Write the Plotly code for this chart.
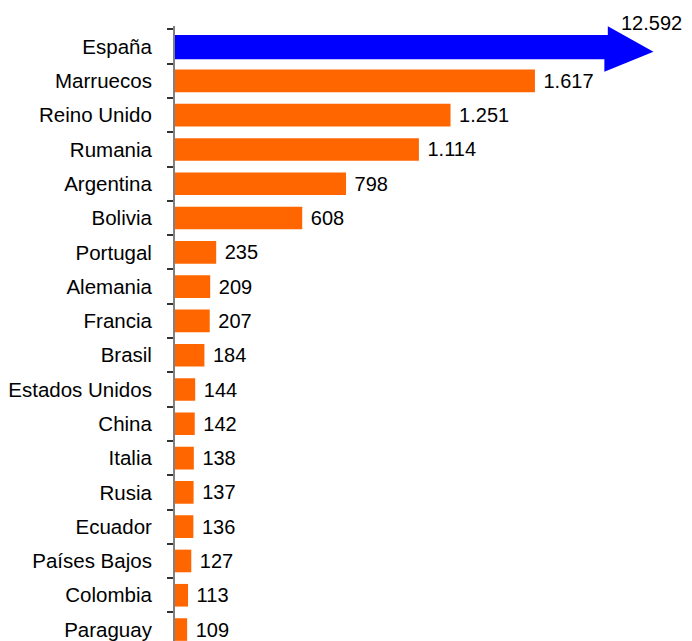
import plotly.graph_objects as go

# Countries, top to bottom
countries = ["España", "Marruecos", "Reino Unido", "Rumania", "Argentina", "Bolivia",
             "Portugal", "Alemania", "Francia", "Brasil", "Estados Unidos", "China",
             "Italia", "Rusia", "Ecuador", "Países Bajos", "Colombia", "Paraguay"]
values = [12592, 1617, 1251, 1114, 798, 608, 235, 209, 207, 184, 144, 142,
          138, 137, 136, 127, 113, 109]

# España is drawn as a truncated arrow (broken scale)
ARROW_BODY_END = 1933
ARROW_TIP = 2131

FONT = "Liberation Sans, Arial, sans-serif"
pos = list(range(len(countries)))

fig = go.Figure()

fig.add_trace(go.Bar(
    x=values[1:], y=pos[1:],
    orientation="h",
    width=0.66,
    marker=dict(color="#FF6600", line=dict(width=0)),
    texttemplate="\u00a0%{x:,.0f}",
    textposition="outside",
    textfont=dict(family=FONT, size=20, color="#000000"),
    cliponaxis=False,
    hoverinfo="skip",
))

# blue arrow for España
fig.add_shape(
    type="path",
    path=(f"M 0,-0.334 L {ARROW_BODY_END},-0.334 L {ARROW_BODY_END},-0.596 "
          f"L {ARROW_TIP},0.153 L {ARROW_BODY_END - 15},0.736 L {ARROW_BODY_END - 15},0.366 "
          f"L 0,0.366 Z"),
    xref="x", yref="y",
    fillcolor="#0000FF", line=dict(width=0),
    layer="below",
)
fig.add_annotation(
    x=1982, y=1, xref="x", yref="paper", yshift=3,
    text=f"{values[0]:,}".replace(",", "."),
    showarrow=False, xanchor="left", yanchor="middle",
    font=dict(family=FONT, size=20, color="#000000"),
)

# the page body adds an 8px offset, so the figure is 8px smaller each way
fig.update_layout(
    width=684, height=633,
    margin=dict(l=167, r=0, t=18, b=0, autoexpand=False),
    plot_bgcolor="white", paper_bgcolor="white",
    separators=",.",
    showlegend=False,
    xaxis=dict(
        range=[56.4, 2298], visible=False, showgrid=False, zeroline=False,
        automargin=False,
    ),
    yaxis=dict(
        range=[17.334, -0.6],
        tickmode="array", tickvals=pos, ticktext=countries,
        ticks="", showgrid=False, zeroline=False, automargin=False,
        showline=True, linecolor="#808080", linewidth=2,
        tickfont=dict(family=FONT, size=20.5, color="#000000"),
        ticklabelstandoff=17,
        minor=dict(
            tickmode="array",
            tickvals=[p - 0.5 for p in pos],
            ticks="outside", ticklen=6, tickwidth=1.5, tickcolor="#333333",
            showgrid=False,
        ),
    ),
)

fig.write_html("out.html")
